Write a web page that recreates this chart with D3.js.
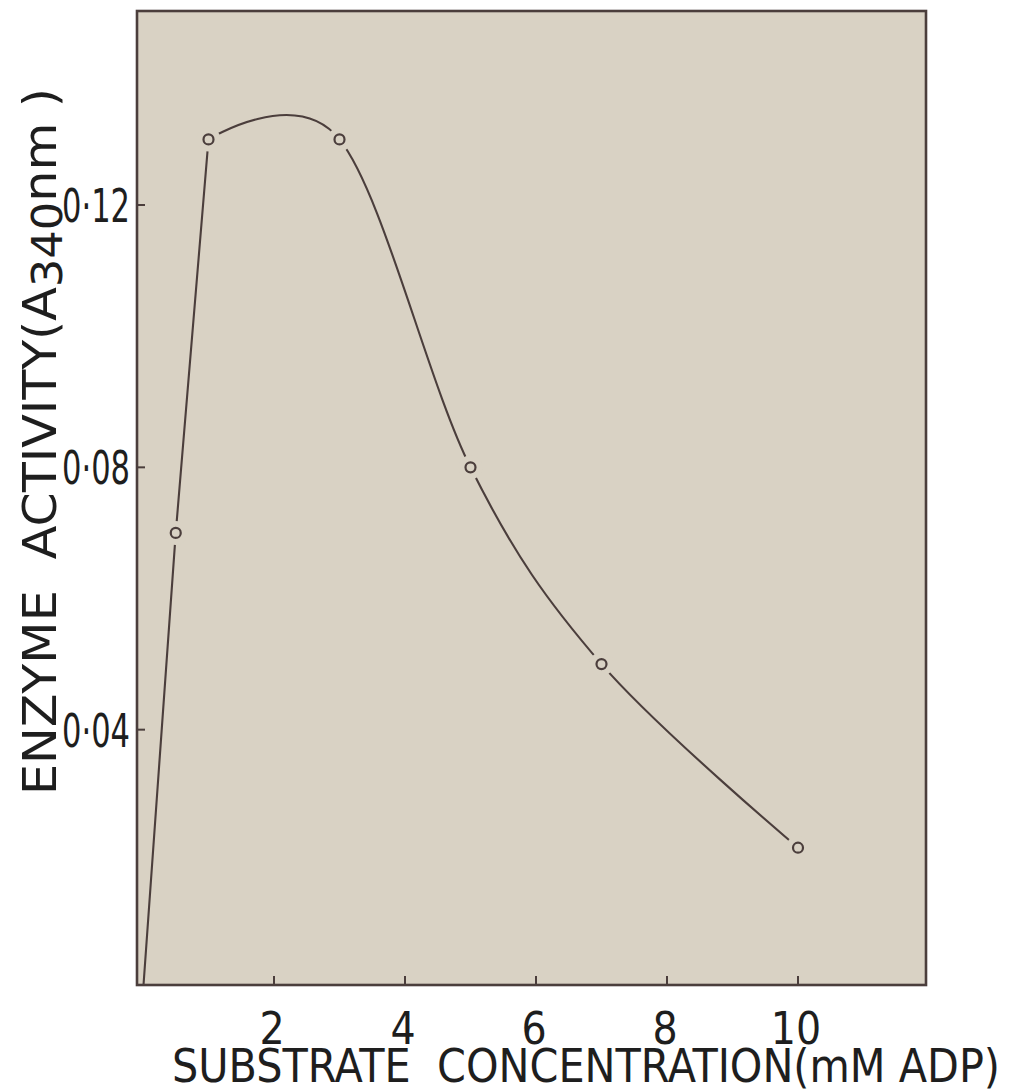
<!DOCTYPE html>
<html><head><meta charset="utf-8">
<script src="https://cdn.jsdelivr.net/npm/d3@7"></script>
<style>body{margin:0;background:#fff} svg{display:block}</style>
</head><body>
<svg id="c" width="1010" height="1092"></svg>
<script>
// ---- data ----
const concentration = [0.5, 1, 3, 5, 7, 10];               // mM ADP
const activity      = [0.07, 0.13, 0.13, 0.08, 0.05, 0.022]; // A340nm
const originPoint   = [0, 0];
const xTicks = [2, 4, 6, 8, 10];
const xTickLabels = ["2", "4", "6", "8", "10"];
const yTicks = [0.04, 0.08, 0.12];
const yTickLabels = ["0·04", "0·08", "0·12"];

const svg = d3.select("#c");
const W = 1010, H = 1092;
const frame = {left: 137, right: 926, top: 11, bottom: 985};
const bg = "#d9d2c4", ink = "#4b3e3c", txt = "#1e1e1e";
const font = "'Liberation Sans Narrow', 'DejaVu Sans Condensed', sans-serif";

const x = d3.scaleLinear().domain([0, 10]).range([143, 798]);
const y = d3.scaleLinear().domain([0, 0.12]).range([992, 205]);

svg.append("rect").attr("width", W).attr("height", H).attr("fill", "#fff");
svg.append("rect")
  .attr("x", frame.left).attr("y", frame.top)
  .attr("width", frame.right - frame.left).attr("height", frame.bottom - frame.top)
  .attr("fill", bg);

svg.append("clipPath").attr("id", "clip").append("rect")
  .attr("x", frame.left).attr("y", frame.top)
  .attr("width", frame.right - frame.left).attr("height", frame.bottom - frame.top);

const pts = concentration.map((c, i) => [c, activity[i]]);
const plot = svg.append("g").attr("clip-path", "url(#clip)");

// straight rising part: origin -> 0.5 -> 1
const rising = [originPoint, pts[0], pts[1]];
plot.append("path")
  .attr("d", d3.line().x(d => x(d[0])).y(d => y(d[1])).curve(d3.curveLinear)(rising))
  .attr("fill", "none").attr("stroke", ink).attr("stroke-width", 2.1);

// smooth hand-drawn-like curve from 1 mM onward
plot.append("path")
  .attr("d", d3.line().x(d => x(d[0])).y(d => y(d[1])).curve(d3.curveCatmullRom.alpha(0))(pts.slice(1)))
  .attr("fill", "none").attr("stroke", ink).attr("stroke-width", 2.1);

// halos (gaps round the points) and open circles
plot.selectAll("circle.halo").data(pts).join("circle")
  .attr("class", "halo").attr("cx", d => x(d[0])).attr("cy", d => y(d[1]))
  .attr("r", 12).attr("fill", bg);
plot.selectAll("circle.pt").data(pts).join("circle")
  .attr("class", "pt").attr("cx", d => x(d[0])).attr("cy", d => y(d[1]))
  .attr("r", 5).attr("fill", "none").attr("stroke", ink).attr("stroke-width", 2.2);

// frame
svg.append("rect")
  .attr("x", frame.left).attr("y", frame.top)
  .attr("width", frame.right - frame.left).attr("height", frame.bottom - frame.top)
  .attr("fill", "none").attr("stroke", ink).attr("stroke-width", 2.6);

// x ticks (inside) and labels
svg.selectAll("line.xt").data(xTicks).join("line")
  .attr("x1", d => x(d)).attr("x2", d => x(d))
  .attr("y1", frame.bottom).attr("y2", frame.bottom - 9)
  .attr("stroke", ink).attr("stroke-width", 2);
svg.selectAll("text.xl").data(xTicks).join("text")
  .attr("x", d => x(d) - 2).attr("y", 1044)
  .attr("text-anchor", "middle")
  .attr("font-family", font).attr("font-size", 44).attr("fill", txt)
  .text((d, i) => xTickLabels[i]);

// y ticks (inside) and labels
svg.selectAll("line.yt").data(yTicks).join("line")
  .attr("x1", frame.left).attr("x2", frame.left + 8)
  .attr("y1", d => y(d)).attr("y2", d => y(d))
  .attr("stroke", ink).attr("stroke-width", 2);
svg.selectAll("text.yl").data(yTicks).join("text")
  .attr("x", 130).attr("y", d => y(d) + 17)
  .attr("text-anchor", "end")
  .attr("font-family", font).attr("font-size", 46).attr("fill", txt)
  .attr("textLength", 68).attr("lengthAdjust", "spacingAndGlyphs")
  .text((d, i) => yTickLabels[i]);

// x axis title
svg.append("text")
  .attr("x", 172).attr("y", 1082)
  .attr("font-family", font).attr("font-size", 46).attr("fill", txt)
  .attr("textLength", 828).attr("lengthAdjust", "spacingAndGlyphs")
  .style("white-space", "pre")
  .text("SUBSTRATE  CONCENTRATION(mM ADP)");

// y axis title (rotated)
const yt = svg.append("text")
  .attr("transform", "translate(56,795) rotate(-90)")
  .attr("font-family", font).attr("font-size", 46).attr("fill", txt)
  .attr("textLength", 707).attr("lengthAdjust", "spacingAndGlyphs")
  .style("white-space", "pre");
yt.append("tspan").text("ENZYME  ACTIVITY(A");
yt.append("tspan").attr("dy", 6).attr("font-size", 42).text("340");
yt.append("tspan").attr("dy", -6).text("nm )");
</script>
</body></html>
